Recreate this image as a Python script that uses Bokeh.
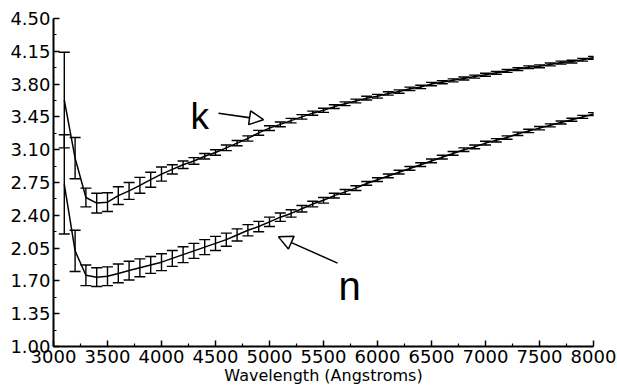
from bokeh.plotting import figure
from bokeh.models import (ColumnDataSource, Whisker, TeeHead, Range1d, FixedTicker,
                          PrintfTickFormatter, Label, Arrow, NormalHead)
from bokeh.embed import file_html
from bokeh.resources import INLINE

# ---------------- data ----------------
wavelength = [3100, 3200, 3300, 3400, 3500, 3600, 3700, 3800, 3900, 4000,
              4100, 4200, 4300, 4400, 4500, 4600, 4700, 4800, 4900, 5000,
              5100, 5200, 5300, 5400, 5500, 5600, 5700, 5800, 5900, 6000,
              6100, 6200, 6300, 6400, 6500, 6600, 6700, 6800, 6900, 7000,
              7100, 7200, 7300, 7400, 7500, 7600, 7700, 7800, 7900, 8000]

n_values = [2.73, 2.02, 1.76, 1.74, 1.75, 1.78, 1.81, 1.84, 1.87, 1.90,
            1.94, 1.98, 2.02, 2.06, 2.10, 2.14, 2.19, 2.24, 2.28, 2.33,
            2.38, 2.42, 2.47, 2.52, 2.56, 2.61, 2.65, 2.69, 2.74, 2.78,
            2.82, 2.86, 2.90, 2.94, 2.98, 3.02, 3.06, 3.10, 3.13, 3.17,
            3.20, 3.23, 3.27, 3.30, 3.33, 3.36, 3.39, 3.42, 3.45, 3.48]

n_errors = [0.53, 0.22, 0.11, 0.10, 0.10, 0.10, 0.10, 0.095, 0.09, 0.09,
            0.085, 0.085, 0.08, 0.08, 0.075, 0.07, 0.065, 0.06, 0.055, 0.05,
            0.045, 0.04, 0.035, 0.03, 0.03, 0.025, 0.025, 0.025, 0.02, 0.02,
            0.02, 0.02, 0.02, 0.02, 0.02, 0.02, 0.02, 0.02, 0.02, 0.02,
            0.018, 0.018, 0.018, 0.018, 0.018, 0.016, 0.016, 0.016, 0.016, 0.016]

k_values = [3.63, 3.01, 2.59, 2.53, 2.54, 2.61, 2.66, 2.72, 2.78, 2.84,
            2.89, 2.94, 2.98, 3.03, 3.07, 3.12, 3.17, 3.22, 3.28, 3.33,
            3.37, 3.41, 3.45, 3.49, 3.52, 3.56, 3.59, 3.62, 3.65, 3.67,
            3.70, 3.72, 3.75, 3.77, 3.80, 3.82, 3.84, 3.86, 3.88, 3.90,
            3.92, 3.94, 3.96, 3.98, 3.99, 4.01, 4.03, 4.04, 4.06, 4.08]

k_errors = [0.51, 0.22, 0.10, 0.105, 0.10, 0.095, 0.09, 0.085, 0.08, 0.075,
            0.05, 0.04, 0.035, 0.03, 0.03, 0.03, 0.028, 0.028, 0.026, 0.025,
            0.025, 0.024, 0.024, 0.022, 0.022, 0.02, 0.02, 0.02, 0.02, 0.02,
            0.018, 0.018, 0.018, 0.018, 0.018, 0.016, 0.016, 0.016, 0.016, 0.016,
            0.015, 0.015, 0.015, 0.015, 0.015, 0.015, 0.015, 0.015, 0.015, 0.015]

x_ticks = [3000, 3500, 4000, 4500, 5000, 5500, 6000, 6500, 7000, 7500, 8000]
y_ticks = [1.00, 1.35, 1.70, 2.05, 2.40, 2.75, 3.10, 3.45, 3.80, 4.15, 4.50]
x_label = "Wavelength (Angstroms)"

# annotation anchors (data units)
k_label_pos = (4268, 3.45)
n_label_pos = (5640, 1.65)
k_arrow = (4528, 3.49, 4944, 3.42)
n_arrow = (5630, 1.89, 5083, 2.17)

# ---------------- figure ----------------
FONT = "DejaVu Sans"

p = figure(frame_width=540, frame_height=328, output_backend="svg",
           toolbar_location=None, x_range=Range1d(3000, 8000),
           y_range=Range1d(1.0, 4.5), min_border_left=53, min_border_right=24,
           min_border_top=18, min_border_bottom=41)
p.outline_line_color = None
p.grid.visible = False
p.background_fill_color = "white"
p.border_fill_color = "white"

src = ColumnDataSource(dict(
    x=wavelength,
    n=n_values,
    n_lo=[v - e for v, e in zip(n_values, n_errors)],
    n_hi=[v + e for v, e in zip(n_values, n_errors)],
    k=k_values,
    k_lo=[v - e for v, e in zip(k_values, k_errors)],
    k_hi=[v + e for v, e in zip(k_values, k_errors)],
))

p.line("x", "n", source=src, line_color="black", line_width=1.5)
p.line("x", "k", source=src, line_color="black", line_width=1.5)

for lo, hi in (("n_lo", "n_hi"), ("k_lo", "k_hi")):
    w = Whisker(base="x", lower=lo, upper=hi, source=src,
                line_color="black", line_width=1.4,
                upper_head=TeeHead(size=11, line_color="black", line_width=1.4),
                lower_head=TeeHead(size=11, line_color="black", line_width=1.4))
    p.add_layout(w)

# axes
minor_x = [t + 250 for t in x_ticks[:-1]]
minor_y = [round(t + 0.175, 3) for t in y_ticks[:-1]]
p.xaxis.ticker = FixedTicker(ticks=x_ticks, minor_ticks=minor_x)
p.yaxis.ticker = FixedTicker(ticks=y_ticks, minor_ticks=minor_y)
p.yaxis.formatter = PrintfTickFormatter(format="%.2f")
p.xaxis.formatter = PrintfTickFormatter(format="%d")

for ax in (p.xaxis, p.yaxis):
    ax.axis_line_width = 2
    ax.axis_line_color = "black"
    ax.major_tick_in = 6
    ax.major_tick_out = 0
    ax.minor_tick_in = 3
    ax.minor_tick_out = 0
    ax.major_tick_line_width = 1.5
    ax.minor_tick_line_width = 1.2
    ax.major_tick_line_color = "black"
    ax.minor_tick_line_color = "black"
    ax.major_label_text_font = FONT
    ax.major_label_text_font_size = "18px"
    ax.major_label_text_color = "black"
    ax.major_label_standoff = 3

p.xaxis.axis_label = x_label
p.xaxis.axis_label_text_font = FONT
p.xaxis.axis_label_text_font_size = "16px"
p.xaxis.axis_label_text_font_style = "normal"
p.xaxis.axis_label_text_color = "black"
p.xaxis.axis_label_standoff = 0

# annotations
LFONT = "Liberation Sans"
p.add_layout(Label(x=k_label_pos[0], y=k_label_pos[1], text="k",
                   text_font=LFONT, text_font_size="37px",
                   text_baseline="alphabetic", text_color="black"))
p.add_layout(Label(x=n_label_pos[0], y=n_label_pos[1], text="n",
                   text_font=LFONT, text_font_size="40px",
                   text_baseline="alphabetic", text_color="black"))
for xs, ys, xe, ye in (k_arrow, n_arrow):
    p.add_layout(Arrow(x_start=xs, y_start=ys, x_end=xe, y_end=ye,
                       line_color="black", line_width=1.5,
                       end=NormalHead(size=14, fill_color="white",
                                      line_color="black", line_width=1.5)))

open("out.html", "w").write(file_html(p, INLINE))
